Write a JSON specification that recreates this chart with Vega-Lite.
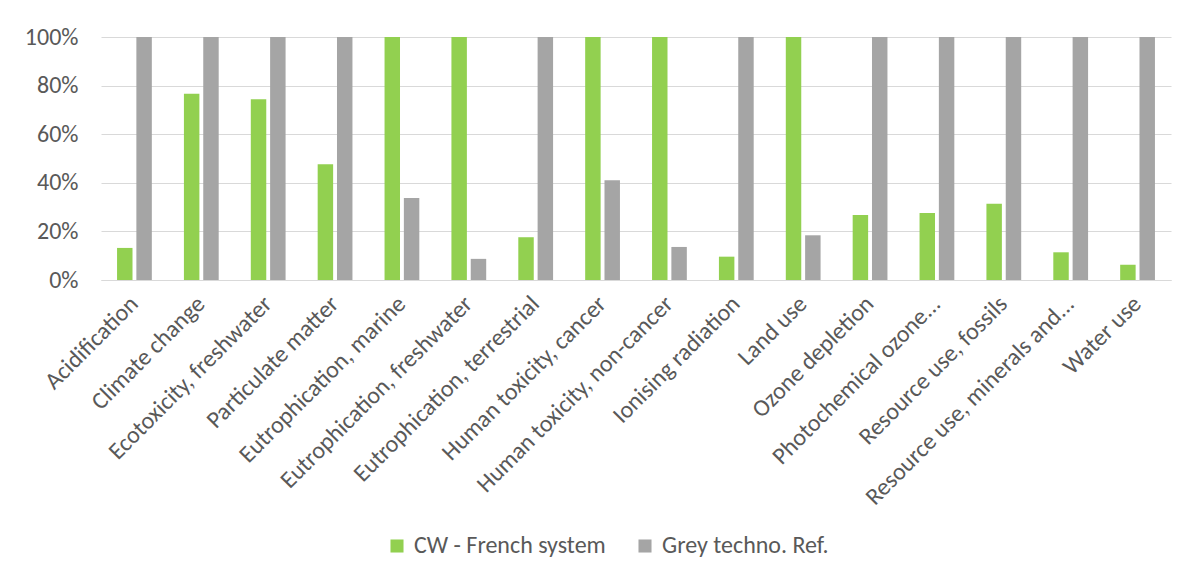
{
  "$schema": "https://vega.github.io/schema/vega-lite/v6.json",
  "width": 1070,
  "height": 243,
  "autosize": {"type": "none"},
  "padding": {"left": 101, "top": 37, "right": 21, "bottom": 298},
  "background": "white",
  "config": {
    "view": {"stroke": null},
    "font": "Carlito",
    "axis": {"gridColor": "#D9D9D9", "domainColor": "#D9D9D9", "labelColor": "#595959", "labelFontSize": 24, "ticks": false, "title": null}
  },
  "data": {
    "values": [
      {"category": "Acidification", "series": "CW - French system", "value": 0.132},
      {"category": "Acidification", "series": "Grey techno. Ref.", "value": 1},
      {"category": "Climate change", "series": "CW - French system", "value": 0.766},
      {"category": "Climate change", "series": "Grey techno. Ref.", "value": 1},
      {"category": "Ecotoxicity, freshwater", "series": "CW - French system", "value": 0.744},
      {"category": "Ecotoxicity, freshwater", "series": "Grey techno. Ref.", "value": 1},
      {"category": "Particulate matter", "series": "CW - French system", "value": 0.476},
      {"category": "Particulate matter", "series": "Grey techno. Ref.", "value": 1},
      {"category": "Eutrophication, marine", "series": "CW - French system", "value": 1},
      {"category": "Eutrophication, marine", "series": "Grey techno. Ref.", "value": 0.337},
      {"category": "Eutrophication, freshwater", "series": "CW - French system", "value": 1},
      {"category": "Eutrophication, freshwater", "series": "Grey techno. Ref.", "value": 0.087},
      {"category": "Eutrophication, terrestrial", "series": "CW - French system", "value": 0.176},
      {"category": "Eutrophication, terrestrial", "series": "Grey techno. Ref.", "value": 1},
      {"category": "Human toxicity, cancer", "series": "CW - French system", "value": 1},
      {"category": "Human toxicity, cancer", "series": "Grey techno. Ref.", "value": 0.41},
      {"category": "Human toxicity, non-cancer", "series": "CW - French system", "value": 1},
      {"category": "Human toxicity, non-cancer", "series": "Grey techno. Ref.", "value": 0.136},
      {"category": "Ionising radiation", "series": "CW - French system", "value": 0.096},
      {"category": "Ionising radiation", "series": "Grey techno. Ref.", "value": 1},
      {"category": "Land use", "series": "CW - French system", "value": 1},
      {"category": "Land use", "series": "Grey techno. Ref.", "value": 0.184},
      {"category": "Ozone depletion", "series": "CW - French system", "value": 0.267},
      {"category": "Ozone depletion", "series": "Grey techno. Ref.", "value": 1},
      {"category": "Photochemical ozone...", "series": "CW - French system", "value": 0.276},
      {"category": "Photochemical ozone...", "series": "Grey techno. Ref.", "value": 1},
      {"category": "Resource use, fossils", "series": "CW - French system", "value": 0.314},
      {"category": "Resource use, fossils", "series": "Grey techno. Ref.", "value": 1},
      {"category": "Resource use, minerals and...", "series": "CW - French system", "value": 0.114},
      {"category": "Resource use, minerals and...", "series": "Grey techno. Ref.", "value": 1},
      {"category": "Water use", "series": "CW - French system", "value": 0.063},
      {"category": "Water use", "series": "Grey techno. Ref.", "value": 1}
    ]
  },
  "mark": {"type": "bar"},
  "encoding": {
    "x": {
      "field": "category",
      "type": "nominal",
      "sort": null,
      "scale": {"paddingInner": 0.48, "paddingOuter": 0.24},
      "axis": {"labelAngle": -45, "labelAlign": "right", "labelBaseline": "middle", "labelPadding": 20, "labelLimit": 400, "grid": false}
    },
    "xOffset": {
      "field": "series",
      "sort": ["CW - French system", "Grey techno. Ref."],
      "scale": {"paddingInner": 0.2}
    },
    "y": {
      "field": "value",
      "type": "quantitative",
      "scale": {"domain": [0, 1]},
      "axis": {"format": "~%", "values": [0, 0.2, 0.4, 0.6, 0.8, 1], "labelPadding": 23, "domain": false, "grid": true}
    },
    "color": {
      "field": "series",
      "type": "nominal",
      "scale": {"domain": ["CW - French system", "Grey techno. Ref."], "range": ["#92D050", "#A5A5A5"]},
      "legend": {
        "title": null,
        "orient": "none",
        "legendX": 284,
        "legendY": 497,
        "direction": "horizontal",
        "symbolType": "square",
        "symbolSize": 170,
        "symbolStrokeWidth": 0,
        "labelFontSize": 24,
        "labelLimit": 400,
        "labelColor": "#595959",
        "labelOffset": 5,
        "columnPadding": 27
      }
    }
  }
}
